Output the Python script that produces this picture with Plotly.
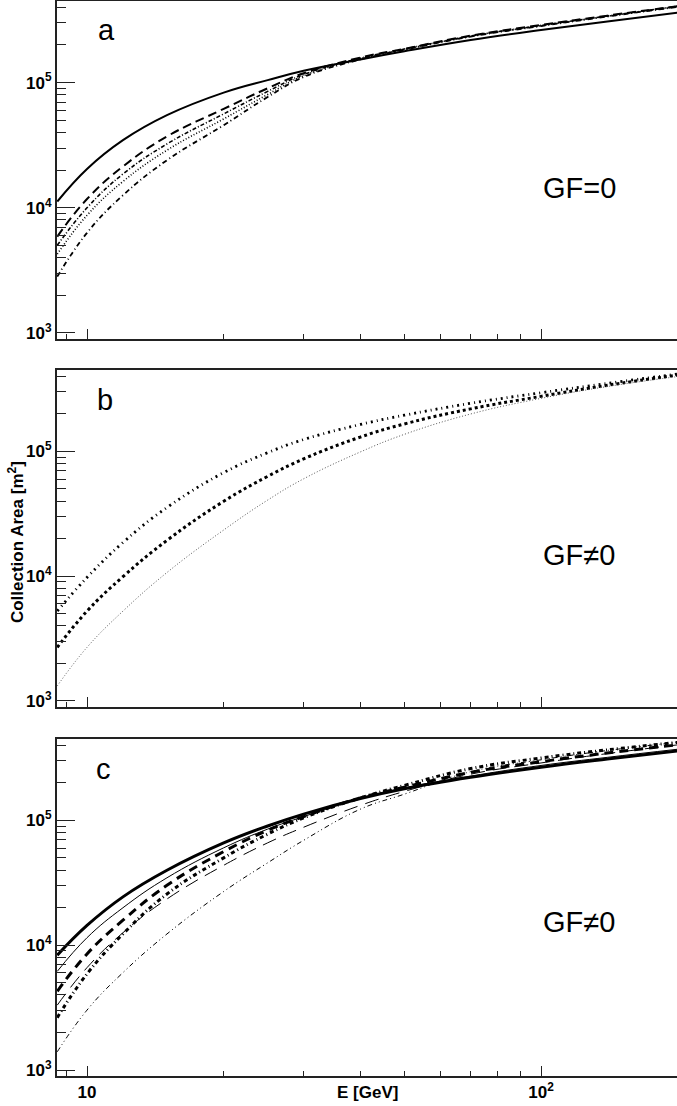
import plotly.graph_objects as go

# ---------------- data ----------------
energy = [8.6, 10, 12, 15, 20, 25, 30, 40, 50, 70, 100, 140, 200]  # GeV

# panel a (GF = 0), collection area in m^2
a_solid    = [11220, 20420, 34670, 54950, 83180, 104700, 124500, 153100, 177800, 218800, 263000, 307600, 361400]
a_longdash = [5890, 11750, 21380, 37150, 61660, 90160, 118900, 158500, 186200, 237100, 288400, 342800, 407400]
a_dashdot  = [5010, 10000, 18620, 32360, 56230, 85110, 116100, 156700, 185400, 235500, 286400, 340400, 407400]
a_dot      = [4270, 8710, 16220, 28840, 51290, 80350, 113500, 154900, 184100, 234400, 285100, 338800, 404600]
a_lowest   = [2820, 6310, 12590, 23990, 45710, 76740, 110900, 153100, 182800, 233300, 283100, 337300, 402700]

# panel b (GF != 0)
b_top    = [5250, 9770, 18600, 35500, 67600, 97700, 124500, 164400, 195000, 243200, 295100, 350800, 416900]
b_middle = [2690, 5250, 9910, 19360, 39810, 63100, 87100, 130300, 166000, 219300, 276100, 338800, 409300]
b_bottom = [1320, 2690, 5250, 10700, 23440, 40740, 60300, 99000, 137000, 199500, 266100, 331100, 398100]

# panel c (GF != 0)
c_thick_solid   = [8320, 14390, 24380, 39810, 65920, 90160, 112200, 149600, 179100, 221300, 266700, 310500, 360600]
c_thin_solid    = [6170, 11480, 19950, 34670, 60260, 85110, 107200, 149600, 182000, 226500, 275400, 319900, 371500]
c_thick_dash    = [4270, 8510, 15850, 30200, 56200, 83200, 107200, 151400, 184100, 242700, 295100, 346700, 402700]
c_thick_dashdot = [2630, 5890, 12300, 25700, 50100, 77600, 104700, 151400, 190500, 260000, 316200, 367300, 421700]
c_thin_longdash = [3310, 6610, 12590, 23440, 43650, 66070, 88100, 131800, 170600, 234400, 288400, 342800, 402700]
c_thin_dashdot2 = [1400, 3020, 6030, 12300, 26920, 45710, 69200, 123000, 162200, 245500, 305500, 363100, 421700]

x_major = [10, 100]
x_major_text = ["10", "10<sup>2</sup>"]
x_minor = [9, 20, 30, 40, 50, 60, 70, 80, 90, 200]
y_major = [1e3, 1e4, 1e5]
y_major_text = ["10<sup>3</sup>", "10<sup>4</sup>", "10<sup>5</sup>"]
y_minor = [m * d for d in (1e3, 1e4, 1e5) for m in range(2, 10)]

panel_letters = ["a", "b", "c"]
panel_notes = ["GF=0", "GF≠0", "GF≠0"]

# ---------------- styling ----------------
FONT = "Liberation Sans"
AX = "#222222"
W, H = 677, 1106
ML, MR, MT, MB = 57, 0, 1, 30
domains = [(0.6856, 1.0), (0.3433, 0.6567), (0.0, 0.3135)]
xrange_log = [0.9339, 2.2995]
yrange_log = [2.952, 5.652]

fig = go.Figure()

def add(panel, y, width, dash, color="black"):
    sfx = "" if panel == 1 else str(panel)
    fig.add_trace(go.Scatter(
        x=energy, y=y, mode="lines", xaxis="x" + sfx, yaxis="y" + sfx,
        line=dict(color=color, width=width, dash=dash, shape="spline", smoothing=1.2),
        showlegend=False, hoverinfo="skip"))

# panel a
add(1, a_solid, 2, "solid")
add(1, a_longdash, 2, "9px,5px")
add(1, a_dashdot, 1.6, "4px,2px,1px,2px")
add(1, a_dot, 1.6, "1px,2px")
add(1, a_lowest, 1.8, "5px,3px,1px,3px")

# panel b
add(2, b_top, 2.8, "2px,4px,1px,4px")
add(2, b_middle, 3, "3px,3px")
add(2, b_bottom, 1, "1px,2px", "#555555")

# panel c
add(3, c_thick_solid, 3, "solid")
add(3, c_thin_solid, 1, "solid")
add(3, c_thick_dash, 3, "9px,6px")
add(3, c_thick_dashdot, 3, "4px,3px,1px,3px")
add(3, c_thin_longdash, 1, "14px,8px")
add(3, c_thin_dashdot2, 1, "5px,3px,1px,3px,1px,3px")

layout = dict(
    width=W, height=H,
    margin=dict(l=ML, r=MR, t=MT, b=MB),
    paper_bgcolor="white", plot_bgcolor="white",
    font=dict(family=FONT, color="black"),
    showlegend=False,
)

for i in range(3):
    sfx = "" if i == 0 else str(i + 1)
    layout["xaxis" + sfx] = dict(
        type="log", range=xrange_log, domain=[0, 1],
        anchor="y" + sfx, automargin=False,
        showline=True, linecolor=AX, linewidth=2, mirror=True,
        showgrid=False, zeroline=False,
        tickmode="array", tickvals=x_major, ticktext=x_major_text,
        ticks="inside", ticklen=10, tickwidth=1, tickcolor=AX,
        showticklabels=(i == 2),
        tickfont=dict(family=FONT, size=17, weight="bold", color="black"),
        minor=dict(tickmode="array", tickvals=x_minor, ticks="inside",
                   ticklen=5, tickwidth=1, tickcolor=AX, showgrid=False),
    )
    layout["yaxis" + sfx] = dict(
        type="log", range=yrange_log, domain=list(domains[i]),
        anchor="x" + sfx, automargin=False,
        showline=True, linecolor=AX, linewidth=2, mirror=False,
        showgrid=False, zeroline=False,
        tickmode="array", tickvals=y_major, ticktext=y_major_text,
        ticks="inside", ticklen=18, tickwidth=1, tickcolor=AX,
        tickfont=dict(family=FONT, size=17, weight="bold", color="black"),
        minor=dict(tickmode="array", tickvals=y_minor, ticks="inside",
                   ticklen=9, tickwidth=1, tickcolor=AX, showgrid=False),
    )

fig.update_layout(**layout)

letter_y = [0.9726, 0.6288, 0.286]
letter_x = [0.0806, 0.0774, 0.0742]
note_y = [0.8265, 0.4847, 0.1433]
for i in range(3):
    fig.add_annotation(text=panel_letters[i], xref="paper", yref="paper",
                       x=letter_x[i], y=letter_y[i], showarrow=False,
                       xanchor="center", yanchor="middle",
                       font=dict(family=FONT, size=29, color="black"))
    fig.add_annotation(text=panel_notes[i], xref="paper", yref="paper",
                       x=0.842, y=note_y[i], showarrow=False,
                       xanchor="center", yanchor="middle",
                       font=dict(family=FONT, size=29, color="black"))

fig.add_annotation(text="E [GeV]", xref="paper", yref="paper",
                   x=0.5016, y=-0.0149, showarrow=False,
                   xanchor="center", yanchor="middle",
                   font=dict(family=FONT, size=17, weight="bold", color="black"))
fig.add_annotation(text="Collection Area [m<sup>2</sup>]", xref="paper", yref="paper",
                   x=-0.0661, y=0.4967, showarrow=False, textangle=-90,
                   xanchor="center", yanchor="middle",
                   font=dict(family=FONT, size=17, weight="bold", color="black"))

fig.write_html("out.html",
               config={"displayModeBar": False},
               post_script="document.body.style.margin='0';document.body.style.overflow='hidden';")
